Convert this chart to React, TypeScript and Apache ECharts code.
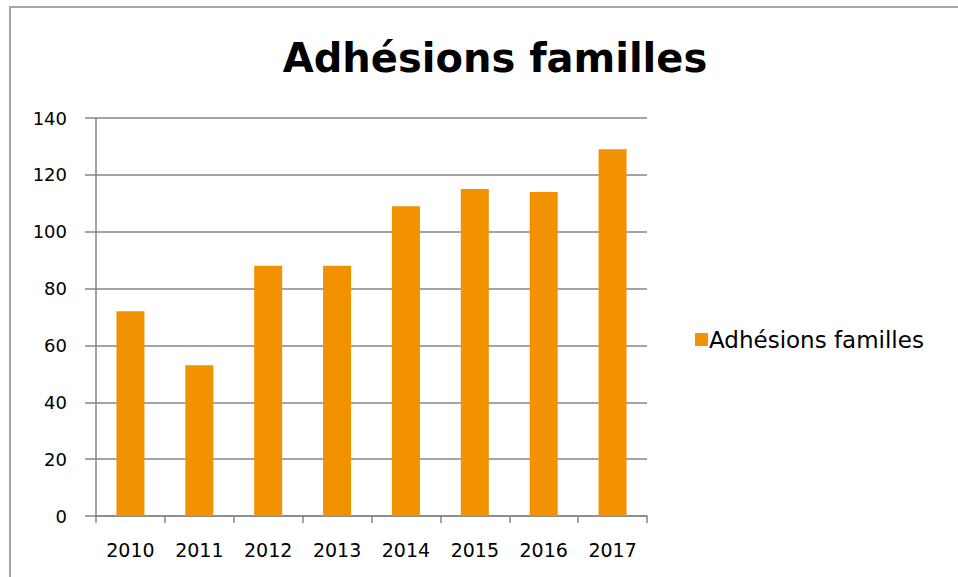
import React, { useEffect, useRef } from "react";
import * as echarts from "echarts";

const categories = ["2010", "2011", "2012", "2013", "2014", "2015", "2016", "2017"];
const adhesions = [72, 53, 88, 88, 109, 115, 114, 129];
const seriesName = "Adhésions familles";
const titleText = "Adhésions familles";

export default function App() {
  const ref = useRef<HTMLDivElement>(null);
  useEffect(() => {
    if (!ref.current) return;
    const chart = echarts.init(ref.current, null, { renderer: "svg" });
    const font = "'DejaVu Sans', sans-serif";
    chart.setOption({
      animation: false,
      backgroundColor: "#ffffff",
      title: {
        text: titleText,
        left: 490,
        top: 33,
        textAlign: "center",
        textStyle: { fontFamily: font, fontSize: 40, fontWeight: "bold", color: "#000" },
      },
      legend: {
        data: [seriesName],
        left: 690,
        top: 323,
        itemWidth: 13,
        itemHeight: 13,
        itemGap: 4,
        icon: "rect",
        textStyle: { fontFamily: font, fontSize: 23, color: "#000", padding: [0, 0, 0, -4] },
      },
      grid: { left: 96, right: 311, top: 118, bottom: 61, containLabel: false },
      xAxis: {
        type: "category",
        data: categories,
        axisLine: { lineStyle: { color: "#868686", width: 1.5 } },
        axisTick: { show: true, length: 7, lineStyle: { color: "#868686", width: 1.5 } },
        axisLabel: { fontFamily: font, fontSize: 19, color: "#000", margin: 24 },
      },
      yAxis: {
        type: "value",
        min: 0,
        max: 140,
        interval: 20,
        axisLine: { show: true, lineStyle: { color: "#868686", width: 1.5 } },
        axisTick: { show: true, length: 11, lineStyle: { color: "#868686", width: 1.5 } },
        axisLabel: { fontFamily: font, fontSize: 18, color: "#000", margin: 29 },
        splitLine: { lineStyle: { color: "#868686", width: 1.5 } },
      },
      series: [
        {
          name: seriesName,
          type: "bar",
          data: adhesions,
          barWidth: 28,
          itemStyle: { color: "#F39200" },
        },
      ],
      graphic: [
        {
          type: "polyline",
          shape: { points: [[10, 600], [10, 7], [970, 7]] },
          style: { stroke: "#a6a6a6", lineWidth: 2, fill: "none" },
          silent: true,
        },
      ],
    });
    return () => chart.dispose();
  }, []);
  return (
    <div
      ref={ref}
      style={{ position: "fixed", left: 0, top: 0, width: 958, height: 577 }}
    />
  );
}
